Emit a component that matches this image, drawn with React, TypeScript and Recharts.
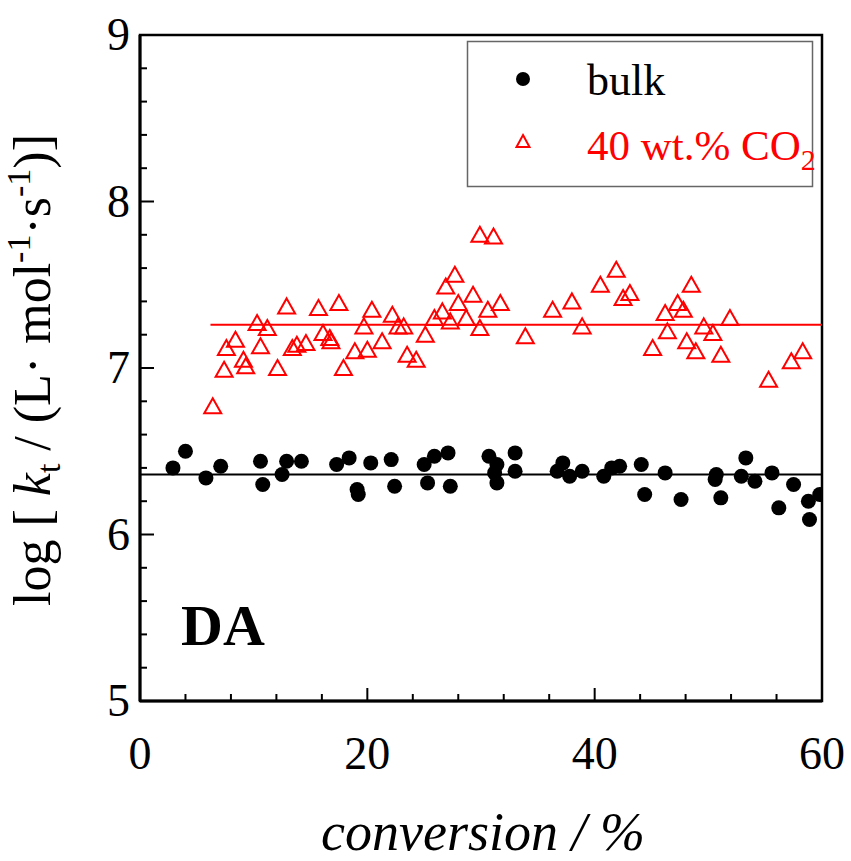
import React from 'react';
import {
  ScatterChart,
  Scatter,
  XAxis,
  YAxis,
  ReferenceLine,
  ReferenceArea,
  Legend,
  Customized,
} from 'recharts';

const bulkX = [
  2.9, 4.0, 5.8, 7.1, 10.6, 10.8, 12.5, 12.9, 14.2, 17.3, 18.4, 19.1, 19.2, 20.3, 22.1, 22.4, 25.0,
  25.3, 25.9, 27.1, 27.3, 30.7, 31.4, 31.2, 31.4, 33.0, 33.0, 36.7, 37.2, 37.8, 38.9, 40.8, 41.5,
  42.2, 44.1, 44.4, 46.2, 47.6, 50.7, 50.6, 51.1, 53.3, 52.9, 54.1, 55.6, 57.5, 56.2, 58.8, 59.8, 58.9,
];
const bulkY = [
  6.4, 6.5, 6.34, 6.41, 6.44, 6.3, 6.36, 6.44, 6.44, 6.42, 6.46, 6.27, 6.24, 6.43, 6.45, 6.29, 6.42,
  6.31, 6.47, 6.49, 6.29, 6.47, 6.42, 6.37, 6.31, 6.49, 6.38, 6.38, 6.43, 6.35, 6.38, 6.35, 6.4,
  6.41, 6.42, 6.24, 6.37, 6.21, 6.36, 6.33, 6.22, 6.46, 6.35, 6.32, 6.37, 6.3, 6.16, 6.2, 6.24, 6.09,
];

const co2X = [
  6.4, 7.4, 7.6, 8.4, 9.1, 9.3, 10.3, 11.2, 10.6, 12.1, 12.9, 13.4, 13.8, 14.6, 15.7, 16.1, 16.7,
  16.8, 17.5, 17.9, 18.9, 19.7, 20.0, 20.4, 21.3, 22.2, 22.7, 23.2, 23.5, 24.3, 25.1, 25.9, 26.6,
  26.9, 27.3, 27.7, 28.0, 28.7, 29.3, 29.9, 29.9, 31.1, 30.6, 31.7, 33.9, 36.3, 38.0, 38.9, 40.5,
  41.9, 42.5, 43.1, 45.1, 46.2, 46.4, 47.3, 47.8, 48.1, 48.5, 48.9, 49.6, 50.4, 51.1, 51.9, 55.3,
  57.3, 58.3,
];
const co2Y = [
  6.77, 6.99, 7.12, 7.17, 7.05, 7.01, 7.27, 7.24, 7.13, 7.0, 7.37, 7.12, 7.14, 7.15, 7.36, 7.21, 7.18,
  7.16, 7.39, 7.0, 7.1, 7.25, 7.11, 7.35, 7.16, 7.32, 7.25, 7.25, 7.08, 7.05, 7.2, 7.3, 7.34,
  7.49, 7.28, 7.56, 7.39, 7.3, 7.44, 7.24, 7.8, 7.79, 7.35, 7.39, 7.19, 7.35, 7.4, 7.25, 7.5,
  7.59, 7.42, 7.45, 7.12, 7.33, 7.22, 7.39, 7.35, 7.16, 7.5, 7.1, 7.25, 7.21, 7.08, 7.3, 6.93,
  7.04, 7.1,
];

// mean lines
const bulkFit = [{ x: 0, y: 6.36 }, { x: 60, y: 6.36 }];
const co2Fit = [{ x: 6.2, y: 7.26 }, { x: 60, y: 7.26 }];

const xTicks = [0, 4, 8, 12, 16, 20, 24, 28, 32, 36, 40, 44, 48, 52, 56, 60];
const xLabels = [0, 20, 40, 60];
const yTicks = [5, 5.2, 5.4, 5.6, 5.8, 6, 6.2, 6.4, 6.6, 6.8, 7, 7.2, 7.4, 7.6, 7.8, 8, 8.2, 8.4, 8.6, 8.8, 9];
const yLabels = [5, 6, 7, 8, 9];

const bulkData = bulkX.map((x, i) => ({ x, y: bulkY[i] }));
const co2Data = co2X.map((x, i) => ({ x, y: co2Y[i] }));

const FONT = '"Liberation Serif", "Times New Roman", serif';

const isLabel = (v: number, list: number[]) => list.some((l) => Math.abs(l - v) < 1e-6);

const XTick = (props: any) => {
  const { x, y, payload } = props;
  const major = isLabel(payload.value, xLabels);
  return (
    <g>
      <line x1={x} x2={x} y1={y} y2={y - (major ? 13 : 7)} stroke="#000" strokeWidth={2} />
      {major && (
        <text x={x} y={y + 68} textAnchor="middle" fontFamily={FONT} fontSize={46} fill="#000">
          {payload.value}
        </text>
      )}
    </g>
  );
};

const YTick = (props: any) => {
  const { x, y, payload } = props;
  const major = isLabel(payload.value, yLabels);
  return (
    <g>
      <line x1={x} x2={x + (major ? 14 : 7)} y1={y} y2={y} stroke="#000" strokeWidth={2} />
      {major && (
        <text x={x - 10} y={y + 15} textAnchor="end" fontFamily={FONT} fontSize={46} fill="#000">
          {payload.value}
        </text>
      )}
    </g>
  );
};

const Dot = (props: any) => <circle cx={props.cx} cy={props.cy} r={7.5} fill="#000" />;

const Tri = (props: any) => {
  const { cx, cy } = props;
  return (
    <path
      d={`M${cx},${cy - 8} L${cx + 8.5},${cy + 7} L${cx - 8.5},${cy + 7} Z`}
      fill="none"
      stroke="#ff0000"
      strokeWidth={2}
    />
  );
};

const YTitle = () => (
  <text
    transform="translate(50,370) rotate(-90)"
    textAnchor="middle"
    fontFamily={FONT}
    fontSize={52}
    fill="#000"
  >
    <tspan>log [ </tspan>
    <tspan fontStyle="italic">k</tspan>
    <tspan fontSize={34} dy={10}>t</tspan>
    <tspan dy={-10}> / (L· mol</tspan>
    <tspan fontSize={34} dy={-20}>-1</tspan>
    <tspan dy={20}>·s</tspan>
    <tspan fontSize={34} dy={-20}>-1</tspan>
    <tspan dy={20}>)]</tspan>
  </text>
);

const XTitle = () => (
  <text x={483} y={850} textAnchor="middle" fontFamily={FONT} fontSize={54} fontStyle="italic" fill="#000">
    conversion / %
  </text>
);

const renderLegend = () => (
  <svg width={346} height={146} style={{ display: 'block', overflow: 'visible' }}>
    <rect x={0.5} y={0.5} width={345} height={145} fill="#fff" stroke="#666" strokeWidth={1.5} />
    <circle cx={56} cy={38} r={7} fill="#000" />
    <text x={120} y={54} fontFamily={FONT} fontSize={44} fill="#000">bulk</text>
    <path d="M56,94 L62.5,106 L49.5,106 Z" fill="none" stroke="#ff0000" strokeWidth={2} />
    <text x={120} y={119} fontFamily={FONT} fontSize={43} fill="#ff0000">
      40 wt.% CO
      <tspan fontSize={30} dy={10}>2</tspan>
    </text>
  </svg>
);

export default function App() {
  return (
    <div style={{ position: 'absolute', left: 0, top: 0, background: '#fff' }}>
      <ScatterChart width={851} height={861} margin={{ top: 35, right: 29, bottom: 0, left: 0 }}>
        <ReferenceArea x1={0} x2={60} y1={5} y2={9} fill="none" stroke="#000" strokeWidth={2.5} ifOverflow="visible" />
        <XAxis
          type="number"
          dataKey="x"
          domain={[0, 60]}
          ticks={xTicks}
          interval={0}
          height={160}
          tickSize={0}
          tickMargin={0}
          tickLine={false}
          tick={<XTick />}
          axisLine={{ stroke: '#000', strokeWidth: 3 }}
          allowDataOverflow
        />
        <YAxis
          type="number"
          dataKey="y"
          domain={[5, 9]}
          ticks={yTicks}
          interval={0}
          width={140}
          tickSize={0}
          tickMargin={0}
          tickLine={false}
          tick={<YTick />}
          axisLine={{ stroke: '#000', strokeWidth: 3 }}
          allowDataOverflow
        />
        <ReferenceLine segment={bulkFit} stroke="#000" strokeWidth={2} />
        <ReferenceLine segment={co2Fit} stroke="#ff0000" strokeWidth={2} />
        <Scatter name="bulk" data={bulkData} shape={<Dot />} isAnimationActive={false} />
        <Scatter name="40 wt.% CO2" data={co2Data} shape={<Tri />} isAnimationActive={false} />
        <Legend
          layout="horizontal"
          verticalAlign="middle"
          align="center"
          content={renderLegend}
          wrapperStyle={{ position: 'absolute', left: 467, top: 41, width: 346, height: 146, overflow: 'visible' }}
        />
        <Customized component={YTitle} />
        <Customized component={XTitle} />
        <Customized
          component={() => (
            <text x={181} y={645} fontFamily={FONT} fontSize={58} fontWeight="bold" fill="#000">
              DA
            </text>
          )}
        />
      </ScatterChart>
    </div>
  );
}
